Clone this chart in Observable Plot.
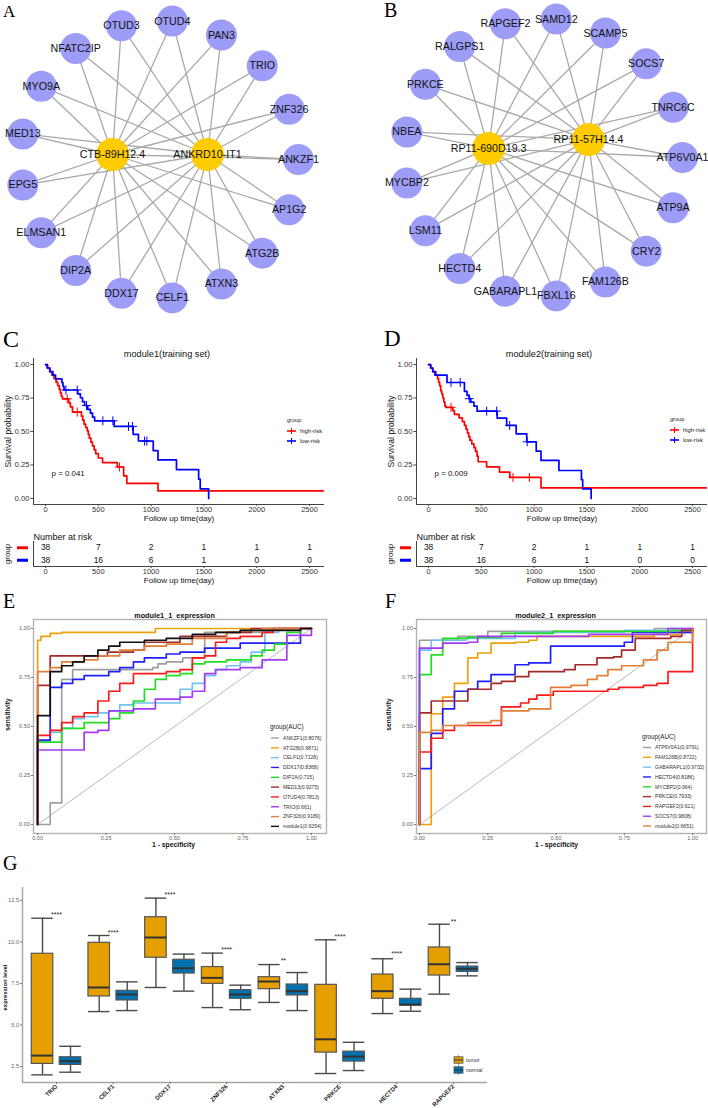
<!DOCTYPE html>
<html><head><meta charset="utf-8">
<script src="https://cdn.jsdelivr.net/npm/d3@7"></script>
<script src="https://cdn.jsdelivr.net/npm/@observablehq/plot@0.6"></script>
<style>
body{margin:0;background:#fff;}
#root{position:relative;width:708px;height:1108px;overflow:hidden;background:#fff;}
</style></head><body><div id="root"></div>
<script>
// ---------------- DATA ----------------
// Panel A network
const netA_genes = ["ANKZF1","ZNF326","TRIO","PAN3","OTUD4","OTUD3","NFATC2IP","MYO9A","MED13","EPG5","ELMSAN1","DIP2A","DDX17","CELF1","ATXN3","ATG2B","AP1G2"];
const netA_hubs = ["CTB-89H12.4","ANKRD10-IT1"];
const netA_hubX = [-0.338, 0.345];
const netA_hubY = [0.036, 0.036];
// Panel B network
const netB_genes = ["ATP6V0A1","TNRC6C","SOCS7","SCAMP5","SAMD12","RAPGEF2","RALGPS1","PRKCE","NBEA","MYCBP2","LSM11","HECTD4","GABARAPL1","FBXL16","FAM126B","CRY2","ATP9A"];
const netB_hubs = ["RP11-690D19.3","RP11-57H14.4"];
const netB_hubX = [-0.395, 0.324];
const netB_hubY = [0.065, 0.129];

// Kaplan-Meier
const kmGroups = ["high-risk","low-risk"];
const kmBreaks = [0,500,1000,1500,2000,2500];
const C_high_t = [0,20,40,60,80,100,115,130,140,150,160,220,235,255,340,352,365,380,395,405,415,430,445,460,475,500,540,680,740,770,1065,2630];
const C_high_s = [1,0.974,0.947,0.921,0.895,0.868,0.842,0.816,0.789,0.763,0.744,0.714,0.684,0.645,0.615,0.585,0.555,0.530,0.505,0.478,0.450,0.420,0.393,0.364,0.335,0.302,0.268,0.235,0.168,0.112,0.056,0.056];
const C_low_t = [0,15,40,70,95,155,165,175,305,330,350,370,400,425,445,465,650,830,880,1020,1065,1240,1450,1465,1545];
const C_low_s = [1,0.974,0.947,0.921,0.893,0.866,0.838,0.810,0.781,0.752,0.723,0.694,0.665,0.637,0.608,0.580,0.538,0.479,0.429,0.357,0.288,0.216,0.144,0.072,0.0];
const C_high_cens = [205,300,700];
const C_low_cens = [193,300,388,543,638,786,824,938,960];
const D_high_t = [0,20,40,70,85,95,105,115,125,135,145,155,165,230,245,290,320,340,355,368,380,392,410,430,445,460,470,550,672,770,1065,2630];
const D_high_s = [1,0.974,0.947,0.921,0.895,0.868,0.842,0.805,0.78,0.75,0.72,0.69,0.68,0.656,0.628,0.601,0.573,0.546,0.518,0.490,0.462,0.435,0.407,0.379,0.351,0.316,0.274,0.236,0.197,0.157,0.079,0.079];
const D_low_t = [0,20,40,60,175,340,365,385,400,430,460,650,740,830,930,1020,1065,1235,1448,1460,1540];
const D_low_s = [1,0.974,0.947,0.921,0.866,0.80,0.77,0.745,0.72,0.69,0.652,0.60,0.545,0.483,0.423,0.353,0.284,0.209,0.14,0.072,0.0];
const D_high_cens = [213,800,955];
const D_low_cens = [213,300,385,551,645,768,934];
const C_pval = "p = 0.041";
const D_pval = "p = 0.009";
const pvalAt = [57, 0.19];
const C_risk_high = [38,7,2,1,1,1];
const C_risk_low = [38,16,6,1,0,0];
const D_risk_high = [38,7,2,1,1,1];
const D_risk_low = [38,16,6,1,0,0];

// ROC panel E
const E_names = ["ANKZF1","ATG2B","CELF1","DDX17","DIP2A","MED13","OTUD4","TRIO","ZNF326","module1"];
const E_auc = ["0.8076","0.9871","0.7128","0.8368","0.715","0.9275","0.7813","0.661","0.9189","0.9254"];
const E_fpr = [
 [0,0.046,0.088,0.128,0.42,0.44,0.47,0.53,0.61,0.85,1],
 [0,0,0.012,0.046,0.088,0.43,1],
 [0,0,0.046,0.088,0.128,0.17,0.22,0.26,0.30,0.35,0.52,0.565,0.61,0.65,0.69,0.74,0.78,0.83,0.88,1],
 [0,0,0.046,0.088,0.128,0.17,0.26,0.30,0.35,0.39,0.47,0.52,0.61,0.74,0.96,1],
 [0,0,0.088,0.17,0.26,0.30,0.35,0.39,0.43,0.47,0.52,0.565,0.61,0.69,0.78,0.82,0.865,0.91,0.96,1],
 [0,0,0.046,0.255,0.35,0.39,0.52,0.69,0.78,1],
 [0,0,0.046,0.088,0.128,0.17,0.22,0.26,0.30,0.35,0.47,0.52,0.565,0.61,0.65,0.69,0.74,0.82,0.86,1],
 [0,0,0.17,0.22,0.26,0.35,0.43,0.52,0.565,0.61,0.65,0.74,0.82,0.91,1],
 [0,0,0.046,0.088,0.17,0.22,0.30,0.39,0.47,0.565,0.69,0.74,0.82,1],
 [0,0,0.046,0.088,0.128,0.17,0.22,0.26,0.30,0.39,0.47,0.565,0.65,0.74,0.96,1]
];
const E_tpr = [
 [0,0.11,0.74,0.79,0.80,0.82,0.83,0.85,0.98,1.0,1.0],
 [0,0.94,0.96,0.975,0.98,1.0,1.0],
 [0,0.42,0.47,0.49,0.54,0.55,0.57,0.58,0.61,0.62,0.69,0.72,0.76,0.79,0.81,0.83,0.88,0.98,1.0,1.0],
 [0,0.43,0.70,0.72,0.74,0.76,0.78,0.80,0.83,0.85,0.87,0.88,0.90,0.925,1.0,1.0],
 [0,0.42,0.49,0.52,0.54,0.57,0.63,0.69,0.74,0.76,0.77,0.82,0.83,0.84,0.86,0.89,0.92,0.98,1.0,1.0],
 [0,0.71,0.86,0.88,0.89,0.93,0.96,0.98,1.0,1.0],
 [0,0.455,0.48,0.52,0.55,0.57,0.63,0.68,0.72,0.77,0.78,0.79,0.85,0.86,0.93,0.95,0.96,0.98,1.0,1.0],
 [0,0.38,0.47,0.48,0.58,0.59,0.64,0.65,0.68,0.77,0.79,0.80,0.84,0.965,1.0],
 [0,0.78,0.80,0.83,0.84,0.86,0.89,0.91,0.92,0.95,0.98,0.99,1.0,1.0],
 [0,0.555,0.78,0.81,0.83,0.86,0.89,0.91,0.93,0.94,0.95,0.97,0.98,0.99,1.0,1.0]
];
// ROC panel F
const F_names = ["ATP6V0A1","FAM126B","GABARAPL1","HECTD4","MYCBP2","PRKCE","RAPGEF2","SOCS7","module2"];
const F_auc = ["0.9791","0.8722","0.9732","0.8186","0.964","0.7933","0.621","0.9808","0.6651"];
const F_fpr = [
 [0,0,0.14,0.25,0.86,1],
 [0,0.043,0.043,0.085,0.128,0.177,0.213,0.262,0.35,0.40,0.43,0.86,0.95,1,1],
 [0,0,0.043,0.17,0.35,0.75,1],
 [0,0,0.043,0.085,0.128,0.177,0.213,0.262,0.35,0.40,0.48,0.75,0.78,1],
 [0,0,0.043,0.085,0.177,0.30,0.49,0.92,1],
 [0,0,0.043,0.177,0.262,0.30,0.35,0.40,0.53,0.57,0.65,0.71,0.74,0.79,0.92,0.96,1],
 [0,0,0.043,0.085,0.128,0.30,0.37,0.40,0.43,0.49,0.69,0.73,0.82,0.87,0.91,1,1],
 [0,0,0.085,0.177,0.213,0.62,0.91,1],
 [0,0,0.043,0.085,0.177,0.262,0.30,0.40,0.48,0.555,0.615,0.65,0.69,0.74,0.82,0.87,0.91,1,1]
];
const F_tpr = [
 [0,0.94,0.96,0.985,1.0,1.0],
 [0,0,0.565,0.65,0.72,0.85,0.875,0.925,0.93,0.94,0.96,0.97,0.98,0.98,1.0],
 [0,0.89,0.94,0.95,0.98,0.99,1.0],
 [0,0.285,0.465,0.59,0.68,0.69,0.73,0.765,0.815,0.825,0.91,0.93,0.98,1.0],
 [0,0.765,0.865,0.95,0.955,0.975,0.985,0.99,1.0],
 [0,0.57,0.63,0.69,0.72,0.73,0.755,0.78,0.79,0.815,0.85,0.855,0.89,0.95,0.96,0.99,1.0],
 [0,0.37,0.44,0.48,0.505,0.60,0.62,0.64,0.66,0.68,0.69,0.70,0.71,0.72,0.78,0.78,1.0],
 [0,0.90,0.925,0.93,0.96,0.97,1.0,1.0],
 [0,0.47,0.48,0.505,0.52,0.53,0.58,0.59,0.70,0.71,0.74,0.76,0.79,0.81,0.84,0.89,0.93,0.93,1.0]
];
const rocTicks = [0,0.25,0.5,0.75,1];

// Boxplot panel G
const G_genes = ["TRIO","CELF1","DDX17","ZNF326","ATXN3","PRKCE","HECTD4","RAPGEF2"];
const G_groups = ["tumor","normal"];
const G_signif = ["****","****","****","****","**","****","****","**"];
const G_signifY = [11.78,10.69,12.98,9.65,9.02,10.45,9.39,11.36];
const tumorMin = [2.00,5.81,7.26,6.05,6.36,2.08,5.69,6.86];
const tumorQ1  = [2.66,6.72,9.05,7.48,7.16,3.34,6.58,7.98];
const tumorMed = [3.16,7.26,10.27,7.84,7.62,4.14,7.04,8.66];
const tumorQ3  = [9.29,9.95,11.49,8.49,7.88,7.42,8.04,9.67];
const tumorMax = [11.43,10.39,12.64,9.33,8.64,10.13,8.99,11.07];
const normalMin = [2.16,5.87,7.04,5.92,5.87,2.26,5.83,7.96];
const normalQ1  = [2.60,6.48,8.10,6.58,6.78,2.80,6.17,8.20];
const normalMed = [2.82,6.84,8.42,6.84,7.04,3.10,6.23,8.39];
const normalQ3  = [3.06,7.06,8.93,7.10,7.44,3.40,6.58,8.52];
const normalMax = [3.72,7.60,9.27,7.40,8.16,3.96,7.16,8.76];
const G_yTicks = [2.5,5,7.5,10,12.5];

// ---------------- STYLE ----------------
const FONT = "'Liberation Sans', Arial, Helvetica, sans-serif";
const SERIF = "'Liberation Serif', 'Times New Roman', serif";
const kmColors = ["#FF0000","#0000FF"];
const E_colors = ["#9E9E9E","#EDA10C","#6EC3F0","#2020FF","#22DD22","#A52A2A","#FF1A1A","#A33AF5","#E0803A","#111111"];
const F_colors = ["#9E9E9E","#EDA10C","#6EC3F0","#2020FF","#22DD22","#A52A2A","#FF1A1A","#A33AF5","#E0803A"];
const boxColors = ["#E69F00","#0072B2"];
const baseStyle = {fontFamily: FONT, background: "transparent", overflow: "visible", maxWidth: "none"};
const intFmt = d3.format("d");

const root = document.getElementById("root");
function place(node, left, top) {
  const div = document.createElement("div");
  div.style.position = "absolute"; div.style.left = left + "px"; div.style.top = top + "px";
  div.appendChild(node); root.appendChild(div);
}

// ---------------- NETWORKS ----------------
function network(genes, hubs, hubX, hubY, w, h, cx, cy, R) {
  const n = genes.length;
  const nodes = genes.map((g,i)=>({name:g, x:Math.cos(2*Math.PI*i/n), y:Math.sin(2*Math.PI*i/n)}));
  const hubNodes = hubs.map((g,i)=>({name:g, x:hubX[i], y:hubY[i]}));
  const links = hubNodes.flatMap(hb => nodes.map(nd => ({x1:hb.x,y1:hb.y,x2:nd.x,y2:nd.y})));
  return Plot.plot({
    width:w, height:h, margin:0, style:{...baseStyle},
    x:{domain:[-cx/R,(w-cx)/R], axis:null},
    y:{domain:[-(h-cy)/R, cy/R], axis:null},
    marks:[
      Plot.link(links,{x1:"x1",y1:"y1",x2:"x2",y2:"y2",stroke:"#a9a9a9",strokeWidth:1.3}),
      Plot.dot(nodes,{x:"x",y:"y",r:15.5,fill:"#9D9DF7"}),
      Plot.dot(hubNodes,{x:"x",y:"y",r:16.5,fill:"#FFCC00"}),
      Plot.text([...nodes,...hubNodes],{x:"x",y:"y",text:"name",fontSize:10.7,fill:"#111"})
    ]
  });
}
place(network(netA_genes, netA_hubs, netA_hubX, netA_hubY, 354, 305, 159, 159, 139), 0, 0);
place(network(netB_genes, netB_hubs, netB_hubX, netB_hubY, 354, 305, 189, 157, 139), 354, 0);

// ---------------- KAPLAN-MEIER ----------------
const kmXDomain = [-114, 2642];
const kmYDomain = [-0.045, 1.045];
function stepAt(ts, ss, t) { let v = ss[0]; for (let i=0;i<ts.length;i++) if (ts[i] <= t) v = ss[i]; return v; }
function kmPlot(title, titleDx, ht, hs, lt, ls, hc, lc, pval) {
  const lines = [...ht.map((t,i)=>({t, s:hs[i], g:kmGroups[0]})), ...lt.map((t,i)=>({t, s:ls[i], g:kmGroups[1]}))];
  const cens = [...hc.map(t=>({t, s:stepAt(ht,hs,t), g:kmGroups[0]})), ...lc.map(t=>({t, s:stepAt(lt,ls,t), g:kmGroups[1]}))];
  return Plot.plot({
    width:354, height:190, marginLeft:33, marginRight:30, marginTop:18, marginBottom:26,
    style:{...baseStyle, fontSize:"8px"},
    x:{domain:kmXDomain}, y:{domain:kmYDomain},
    color:{domain:kmGroups, range:kmColors},
    marks:[
      Plot.ruleX([kmXDomain[0]], {stroke:"#444", strokeWidth:1}),
      Plot.ruleY([kmYDomain[0]], {stroke:"#444", strokeWidth:1}),
      Plot.axisY([0,0.25,0.5,0.75,1], {tickFormat:d3.format(".2f"), tickSize:2.5, tickPadding:1.5, fontSize:7.7, fill:"#333", stroke:"#444", label:null}),
      Plot.axisX(kmBreaks, {tickFormat:intFmt, tickSize:2, tickPadding:0, fontSize:7.5, fill:"#333", stroke:"#444", label:null}),
      Plot.line(lines, {x:"t", y:"s", z:"g", stroke:"g", curve:"step-after", strokeWidth:1.7}),
      Plot.dot(cens, {x:"t", y:"s", stroke:"g", symbol:"plus", r:3, strokeWidth:1}),
      Plot.text([pval], {x:pvalAt[0], y:pvalAt[1], text:d=>d, textAnchor:"start", fontSize:7.9, fill:"#111"}),
      Plot.text([title], {frameAnchor:"top", dy:-8, dx:titleDx, text:d=>d, fontSize:9.2, fill:"#111"}),
      Plot.text(["Survival probability"], {frameAnchor:"left", textAnchor:"middle", rotate:-90, dx:-25, text:d=>d, fontSize:8.6, fill:"#111"}),
      Plot.text(["Follow up time(day)"], {frameAnchor:"bottom", dy:16.5, text:d=>d, fontSize:8.1, fill:"#111"})
    ]
  });
}
function riskPlot(highN, lowN) {
  const rows = [...kmBreaks.map((t,i)=>({t, n:highN[i], r:1})), ...kmBreaks.map((t,i)=>({t, n:lowN[i], r:0}))];
  return Plot.plot({
    width:354, height:60, marginLeft:33, marginRight:30, marginTop:14, marginBottom:21,
    style:{...baseStyle, fontSize:"8px"},
    x:{domain:kmXDomain}, y:{domain:[-0.5,1.5]},
    marks:[
      Plot.ruleX([kmXDomain[0]], {stroke:"#444", strokeWidth:1}),
      Plot.ruleY([-0.5], {stroke:"#444", strokeWidth:1}),
      Plot.axisY([1], {tickSize:11, dx:-5, stroke:kmColors[0], strokeWidth:3, fill:"none", label:null}),
      Plot.axisY([0], {tickSize:11, dx:-5, stroke:kmColors[1], strokeWidth:3, fill:"none", label:null}),
      Plot.axisX(kmBreaks, {tickFormat:intFmt, tickSize:2, tickPadding:0, fontSize:7.5, fill:"#333", stroke:"#444", label:null}),
      Plot.text(rows, {x:"t", y:"r", text:"n", fontSize:8.4, fill:"#111"}),
      Plot.text(["Number at risk"], {frameAnchor:"top-left", dy:-8, textAnchor:"start", text:d=>d, fontSize:9, fill:"#111"}),
      Plot.text(["group"], {frameAnchor:"left", textAnchor:"middle", rotate:-90, dx:-26, text:d=>d, fontSize:8, fill:"#111"}),
      Plot.text(["Follow up time(day)"], {frameAnchor:"bottom", dy:16, text:d=>d, fontSize:8.1, fill:"#111"})
    ]
  });
}
place(kmPlot("module1(training set)", -12, C_high_t, C_high_s, C_low_t, C_low_s, C_high_cens, C_low_cens, C_pval), 0, 340);
place(kmPlot("module2(training set)", -13, D_high_t, D_high_s, D_low_t, D_low_s, D_high_cens, D_low_cens, D_pval), 383, 340);
place(riskPlot(C_risk_high, C_risk_low), 0, 527);
place(riskPlot(D_risk_high, D_risk_low), 383, 527);

// ---------------- ROC ----------------
function rocPlot(names, colors, fprs, tprs, title, ml, mr, xDomain, titleDx, sensDx, xlabDx) {
  const pts = names.flatMap((nm,k)=>fprs[k].map((f,i)=>({name:nm, fpr:f, tpr:tprs[k][i]})));
  return Plot.plot({
    width:354, height:260, marginLeft:ml, marginRight:mr, marginTop:19, marginBottom:27,
    style:{...baseStyle, fontSize:"6px"},
    x:{domain:xDomain}, y:{domain:[-0.046,1.046]},
    color:{domain:names, range:colors},
    marks:[
      Plot.line([{a:0,b:0},{a:1,b:1}], {x:"a", y:"b", stroke:"#b8b8b8", strokeWidth:1}),
      Plot.line(pts, {x:"fpr", y:"tpr", z:"name", stroke:"name", curve:"step-after", strokeWidth:1.7}),
      Plot.frame({stroke:"#b3b3b3", strokeWidth:1.4}),
      Plot.axisX(rocTicks, {tickFormat:d3.format(".2f"), tickSize:2, tickPadding:0.5, fontSize:5.6, fill:"#666", stroke:"#777", label:null}),
      Plot.axisY(rocTicks, {tickFormat:d3.format(".2f"), tickSize:2, tickPadding:1.5, fontSize:5.6, fill:"#666", stroke:"#777", label:null}),
      Plot.text([title], {frameAnchor:"top", dy:-7, dx:titleDx, text:d=>d, fontSize:7.3, fontWeight:"bold", fill:"#111"}),
      Plot.text(["sensitivity"], {frameAnchor:"left", textAnchor:"middle", rotate:-90, dx:sensDx, dy:-12, text:d=>d, fontSize:6.6, fontWeight:"bold", fill:"#111"}),
      Plot.text(["1 - specificity"], {frameAnchor:"bottom", dy:13, dx:xlabDx, text:d=>d, fontSize:6.8, fontWeight:"bold", fill:"#111"})
    ]
  });
}
place(rocPlot(E_names, E_colors, E_fpr, E_tpr, "module1_1  expression", 33, 28, [-0.015,1.055], -5.5, -26, -6.5), 0, 600);
place(rocPlot(F_names, F_colors, F_fpr, F_tpr, "module2_1  expression", 62, 2, [-0.011,1.051], -6, -28, -5), 354, 600);

// ---------------- BOXPLOT ----------------
const dodge = 0.247, boxHalf = 0.19;
const boxes = G_genes.flatMap((g,i)=>[
  {gene:g, grp:G_groups[0], xc:i+1-dodge, min:tumorMin[i], q1:tumorQ1[i], med:tumorMed[i], q3:tumorQ3[i], max:tumorMax[i]},
  {gene:g, grp:G_groups[1], xc:i+1+dodge, min:normalMin[i], q1:normalQ1[i], med:normalMed[i], q3:normalQ3[i], max:normalMax[i]}
]);
const gX = [0.4, 8.6], gY = [1.54, 13.28];
const boxPlot = Plot.plot({
  width:500, height:238, marginLeft:22, marginRight:13, marginTop:17, marginBottom:26,
  style:{...baseStyle, fontSize:"6px"},
  x:{domain:gX}, y:{domain:gY},
  color:{domain:G_groups, range:boxColors},
  marks:[
    Plot.ruleX([gX[0]], {stroke:"#a6a6a6", strokeWidth:1.5}),
    Plot.ruleY([gY[0]], {stroke:"#a6a6a6", strokeWidth:1.5}),
    Plot.axisY(G_yTicks, {tickFormat:d3.format(".1f"), tickSize:2, tickPadding:1.5, fontSize:5.6, fill:"#666", stroke:"#777", label:null}),
    Plot.axisX(G_genes.map((g,i)=>i+1), {tickFormat:i=>G_genes[i-1], tickSize:2, tickPadding:1, tickRotate:-45, textAnchor:"end", fontSize:6, fontWeight:"bold", fill:"#222", stroke:"#777", label:null}),
    Plot.ruleX(boxes, {x:"xc", y1:"min", y2:"max", stroke:"#4a4a4a", strokeWidth:1.4}),
    Plot.ruleY(boxes, {y:"min", x1:d=>d.xc-boxHalf, x2:d=>d.xc+boxHalf, stroke:"#4a4a4a", strokeWidth:1.4}),
    Plot.ruleY(boxes, {y:"max", x1:d=>d.xc-boxHalf, x2:d=>d.xc+boxHalf, stroke:"#4a4a4a", strokeWidth:1.4}),
    Plot.rect(boxes, {x1:d=>d.xc-boxHalf, x2:d=>d.xc+boxHalf, y1:"q1", y2:"q3", fill:"grp", stroke:"#555", strokeWidth:1.2}),
    Plot.ruleY(boxes, {y:"med", x1:d=>d.xc-boxHalf, x2:d=>d.xc+boxHalf, stroke:"#333", strokeWidth:2}),
    Plot.text(G_genes, {x:(d,i)=>i+1, y:(d,i)=>G_signifY[i], text:(d,i)=>G_signif[i], dy:2, fontSize:7, fill:"#222"}),
    Plot.text(["expression level"], {frameAnchor:"left", textAnchor:"middle", rotate:-90, dx:-17, dy:2.5, text:d=>d, fontSize:5.9, fontWeight:"bold", fill:"#111"})
  ]
});
place(boxPlot, 0, 870);

// ---------------- OVERLAY: panel letters and legends ----------------
const ov = d3.select(root).append("svg").attr("width",708).attr("height",1108)
  .style("position","absolute").style("left","0px").style("top","0px").style("pointer-events","none");
const letters = [["A",3,17,17],["B",384,17,20],["C",3,347,24],["D",384,346,23],["E",3,608,20],["F",385,608,20],["G",3,870,20]];
letters.forEach(([t,x,y,s])=>ov.append("text").attr("x",x).attr("y",y).attr("font-family",SERIF).attr("font-size",s).attr("fill","#000").text(t));

function kmLegend(x, y) {
  const g = ov.append("g").attr("font-family",FONT);
  g.append("text").attr("x",x).attr("y",y+2).attr("font-size",5.6).attr("fill","#222").text("group");
  kmGroups.forEach((grp,i)=>{
    const yy = y + 11 + i*10;
    g.append("line").attr("x1",x).attr("x2",x+9).attr("y1",yy).attr("y2",yy).attr("stroke",kmColors[i]).attr("stroke-width",1.6);
    g.append("line").attr("x1",x+4.5).attr("x2",x+4.5).attr("y1",yy-3).attr("y2",yy+3).attr("stroke",kmColors[i]).attr("stroke-width",1);
    g.append("text").attr("x",x+13).attr("y",yy+2).attr("font-size",5.9).attr("fill","#222").text(grp);
  });
}
kmLegend(287, 420);
kmLegend(670, 419);

function rocLegend(x, y, names, aucs, colors) {
  const g = ov.append("g").attr("font-family",FONT);
  g.append("text").attr("x",x-1).attr("y",y+2.3).attr("font-size",6.3).attr("fill","#222").text("group(AUC)");
  names.forEach((nm,i)=>{
    const yy = y + 11 + i*9.82;
    g.append("line").attr("x1",x).attr("x2",x+8).attr("y1",yy).attr("y2",yy).attr("stroke",colors[i]).attr("stroke-width",1.4);
    g.append("text").attr("x",x+12).attr("y",yy+1.8).attr("font-size",5.1).attr("fill","#333").text(nm+"("+aucs[i]+")");
  });
}
rocLegend(271, 727, E_names, E_auc, E_colors);
rocLegend(643, 736.5, F_names, F_auc, F_colors);

(function boxLegend(x, y){
  const g = ov.append("g").attr("font-family",FONT);
  G_groups.forEach((grp,i)=>{
    const yy = y + i*10;
    g.append("line").attr("x1",x+4.5).attr("x2",x+4.5).attr("y1",yy-4.5).attr("y2",yy+4.5).attr("stroke","#555").attr("stroke-width",1);
    g.append("rect").attr("x",x).attr("y",yy-3.2).attr("width",9).attr("height",6.4).attr("fill",boxColors[i]).attr("stroke","#555").attr("stroke-width",0.8);
    g.append("line").attr("x1",x).attr("x2",x+9).attr("y1",yy).attr("y2",yy).attr("stroke","#333").attr("stroke-width",1);
    g.append("text").attr("x",x+12).attr("y",yy+2).attr("font-size",5.4).attr("fill","#333").text(grp);
  });
})(454, 1060);
</script></body></html>
